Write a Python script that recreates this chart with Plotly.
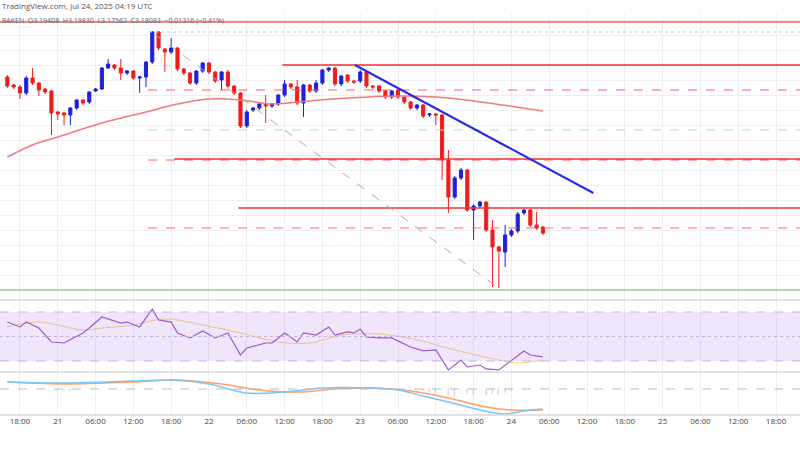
import plotly.graph_objects as go
import pandas as pd

# hourly candles Jul 20 16:00 -> Jul 24 05:00
times = pd.date_range("2025-07-20 16:00", periods=86, freq="h")
opens = [3.486,3.470,3.466,3.454,3.484,3.474,3.462,3.458,3.416,3.414,3.410,3.424,3.440,3.436,3.458,3.462,3.504,3.510,3.504,3.494,
         3.498,3.484,3.486,3.516,3.576,3.542,3.536,3.544,3.502,3.494,3.474,3.498,3.514,3.496,3.480,3.496,3.468,3.454,3.388,3.420,
         3.424,3.432,3.428,3.432,3.450,3.472,3.466,3.434,3.470,3.458,3.474,3.500,3.504,3.472,3.490,3.478,3.478,3.496,3.468,3.468,
         3.458,3.446,3.460,3.446,3.436,3.424,3.430,3.410,3.412,3.410,3.320,3.246,3.284,3.300,3.220,3.228,3.236,3.180,3.146,3.136,
         3.170,3.178,3.214,3.220,3.190,3.186]
highs = [3.490,3.472,3.470,3.488,3.504,3.476,3.464,3.460,3.418,3.416,3.426,3.442,3.442,3.458,3.464,3.506,3.522,3.512,3.522,3.500,
         3.500,3.488,3.518,3.578,3.578,3.544,3.564,3.546,3.504,3.496,3.500,3.516,3.516,3.498,3.498,3.500,3.470,3.456,3.420,3.426,
         3.434,3.450,3.434,3.452,3.480,3.474,3.480,3.472,3.472,3.480,3.502,3.506,3.506,3.490,3.492,3.480,3.500,3.498,3.470,3.470,
         3.460,3.460,3.462,3.448,3.438,3.432,3.432,3.414,3.414,3.412,3.340,3.288,3.304,3.302,3.232,3.238,3.238,3.200,3.148,3.190,
         3.182,3.216,3.222,3.222,3.216,3.188]
lows = [3.464,3.462,3.442,3.450,3.470,3.448,3.452,3.370,3.400,3.390,3.390,3.420,3.430,3.432,3.456,3.460,3.502,3.500,3.480,3.490,
        3.480,3.454,3.466,3.512,3.540,3.496,3.532,3.498,3.490,3.470,3.470,3.494,3.492,3.474,3.460,3.464,3.450,3.384,3.384,3.416,
        3.420,3.394,3.424,3.428,3.446,3.462,3.430,3.406,3.454,3.454,3.470,3.496,3.468,3.468,3.474,3.472,3.474,3.464,3.462,3.454,
        3.442,3.442,3.442,3.432,3.420,3.420,3.404,3.406,3.390,3.280,3.214,3.242,3.280,3.216,3.160,3.224,3.176,3.066,3.064,3.106,
        3.166,3.174,3.210,3.186,3.180,3.170]
closes = [3.468,3.466,3.454,3.484,3.474,3.460,3.456,3.414,3.412,3.410,3.424,3.440,3.434,3.456,3.462,3.504,3.512,3.504,3.494,3.498,
          3.484,3.486,3.516,3.576,3.544,3.536,3.544,3.502,3.494,3.474,3.498,3.514,3.496,3.478,3.496,3.468,3.454,3.388,3.416,3.424,
          3.432,3.428,3.432,3.450,3.472,3.466,3.434,3.470,3.458,3.474,3.500,3.504,3.472,3.488,3.478,3.476,3.496,3.468,3.466,3.458,
          3.446,3.458,3.446,3.436,3.424,3.430,3.408,3.412,3.410,3.320,3.246,3.284,3.300,3.220,3.228,3.236,3.180,3.146,3.138,3.170,
          3.178,3.212,3.220,3.190,3.184,3.174]

ma_idx = [0,4,8,15,22,27,32,37,42,46,54,62,68,74,85]
ma_val = [3.326,3.350,3.366,3.394,3.416,3.432,3.442,3.440,3.432,3.436,3.444,3.448,3.446,3.438,3.418]

rsi_idx = [0,2,3,5,7,9,12,13,15,18,19,21,23,24,26,27,29,31,33,35,37,38,41,42,44,46,47,49,51,52,54,55,56,57,59,61,64,66,68,70,72,73,75,76,78,80,82,83,85]
rsi_val = [61.8,57.8,61.8,56.9,45.5,44.7,52.9,56.9,65.9,61,61.8,57.8,72.4,63.5,61.8,52.9,48.8,54.5,48.8,52.9,34.9,40.6,44.7,44.7,52.9,45.5,52.9,51.2,57.8,51.2,53.7,52.9,56.1,49.6,48.8,48.8,41.4,38.2,39,22.7,30.8,25.1,26.7,23.5,22.7,30.8,38.2,34.9,33.3]
rsima_idx = [0,5,12,15,20,25,31,37,43,48,53,59,65,71,78,81,85]
rsima_val = [57.8,61.8,55.3,56.9,59.4,64.3,59.4,52.9,45.5,44.7,51.2,52,47.3,39,30.8,28.4,30.8]

macd_idx = [0,10,20,26,32,38,44,50,57,62,66,70,75,79,82,85]
macd_val = [0.014,0.012,0.016,0.018,0.010,-0.008,-0.006,0.002,0.002,-0.002,-0.014,-0.026,-0.042,-0.050,-0.044,-0.040]
sig_idx = [0,10,20,27,34,40,46,52,58,64,70,76,80,85]
sig_val = [0.014,0.010,0.014,0.018,0.010,-0.002,-0.006,0.0,0.002,-0.004,-0.018,-0.036,-0.042,-0.042]
hist_idx = [8,9,10,36,37,38,39,40,62,64,66,67,68,69,70,71,72,73,74,75,76,77,78,79,80,84,85]
hist_val = [-0.004,-0.005,-0.003,-0.003,-0.005,-0.007,-0.004,-0.003,0.002,-0.002,-0.004,-0.006,-0.008,-0.010,-0.012,-0.014,-0.012,-0.010,-0.012,-0.014,-0.012,-0.010,-0.012,-0.008,-0.004,0.001,0.002]

tick_vals = pd.date_range("2025-07-20 18:00", "2025-07-25 18:00", freq="6h")
tick_text = ["18:00","21","06:00","12:00","18:00","22","06:00","12:00","18:00","23","06:00","12:00","18:00",
             "24","06:00","12:00","18:00","25","06:00","12:00","18:00"]

def at(ix):
    return [times[i] for i in ix]

fig = go.Figure()
fig.add_trace(go.Candlestick(x=times, open=opens, high=highs, low=lows, close=closes,
    increasing=dict(line=dict(color="#1f1fe0", width=1), fillcolor="#1f1fe0"),
    decreasing=dict(line=dict(color="#f01c1c", width=1), fillcolor="#f01c1c"),
    whiskerwidth=0, xaxis="x", yaxis="y", showlegend=False))
fig.add_trace(go.Scatter(x=at(ma_idx), y=ma_val, mode="lines", line=dict(color="#f27a7a", width=1.5, shape="spline"),
                         xaxis="x", yaxis="y", showlegend=False))
fig.add_trace(go.Scatter(x=at(rsima_idx), y=rsima_val, mode="lines", line=dict(color="#f5d77a", width=1, shape="spline"),
                         xaxis="x", yaxis="y2", showlegend=False))
fig.add_trace(go.Scatter(x=at(rsi_idx), y=rsi_val, mode="lines", line=dict(color="#a05cc8", width=1.2),
                         xaxis="x", yaxis="y2", showlegend=False))
fig.add_trace(go.Bar(x=at(hist_idx), y=hist_val, marker_color=["#f5a0a0" if v < 0 else "#80cbc4" for v in hist_val],
                     width=1000*3600*0.12, xaxis="x", yaxis="y3", showlegend=False))
fig.add_trace(go.Scatter(x=at(sig_idx), y=sig_val, mode="lines", line=dict(color="#ff9e6b", width=1.5, shape="spline"),
                         xaxis="x", yaxis="y3", showlegend=False))
fig.add_trace(go.Scatter(x=at(macd_idx), y=macd_val, mode="lines", line=dict(color="#7cc4f5", width=1.5, shape="spline"),
                         xaxis="x", yaxis="y3", showlegend=False))

xend = "2025-07-26 00:00"
def hline(x0, y, color, dash="solid", width=1.5):
    fig.add_shape(type="line", xref="x", yref="y", x0=x0, x1=xend, y0=y, y1=y,
                  line=dict(color=color, dash=dash, width=width))

hline("2025-07-20 00:00", 3.596, "#f26060", width=1.5)
hline("2025-07-21 14:30", 3.576, "#a8d0f0", "dot", 1)
hline("2025-07-22 11:40", 3.510, "#f03030", width=1.5)
hline("2025-07-21 14:20", 3.460, "#f06060", "dash", 1)
hline("2025-07-21 14:20", 3.380, "#9fe0c8", "dash", 1)
hline("2025-07-21 14:20", 3.320, "#f06060", "dash", 1)
hline("2025-07-21 18:30", 3.322, "#f03030", width=1.5)
hline("2025-07-22 04:40", 3.224, "#f03030", width=1.5)
hline("2025-07-21 14:20", 3.184, "#f07070", "dash", 1)
hline("2025-07-20 00:00", 3.060, "#66bb6a", width=1.2)
fig.add_shape(type="line", xref="x", yref="y", x0="2025-07-22 23:10", y0=3.510, x1="2025-07-24 13:00", y1=3.254,
              line=dict(color="#2828e8", width=2))
fig.add_shape(type="line", xref="x", yref="y", x0="2025-07-21 15:20", y0=3.572, x1="2025-07-23 22:10", y1=3.062,
              line=dict(color="#aaaaaa", width=1, dash="dash"))
# RSI band
fig.add_shape(type="rect", xref="paper", yref="y2", x0=0, x1=1, y0=30, y1=70, fillcolor="rgba(155,89,230,0.15)", line_width=0)
for lv in (70, 50, 30):
    fig.add_shape(type="line", xref="paper", yref="y2", x0=0, x1=1, y0=lv, y1=lv,
                  line=dict(color="#c8b0dc", width=1, dash="dash" if lv != 50 else "dot"))
fig.add_shape(type="line", xref="paper", yref="y3", x0=0, x1=1, y0=0, y1=0, line=dict(color="#bbbbbb", width=1, dash="dash"))
# pane separators
for py in (1-300/450, 1-372/450, 1-415/450):
    fig.add_shape(type="line", xref="paper", yref="paper", x0=0, x1=1, y0=py, y1=py, line=dict(color="#d8d8d8", width=1.5))

fig.add_annotation(text="TradingView.com, Jul 24, 2025 04:19 UTC", xref="paper", yref="paper", x=0.0, y=1-6/450,
                   xanchor="left", yanchor="middle", showarrow=False, font=dict(size=8, color="#555"))
fig.add_annotation(text="RAKEN  O3.19408  H3.19830  L3.17562  C3.18083  −0.01316 (−0.41%)", xref="paper", yref="paper",
                   x=0.0, y=1-21/450, xanchor="left", yanchor="middle", showarrow=False, font=dict(size=7, color="#666"))

grid = "#eeeeee"
fig.update_layout(
    width=800, height=450, margin=dict(l=0, r=0, t=0, b=0),
    paper_bgcolor="white", plot_bgcolor="white",
    xaxis=dict(range=["2025-07-20 14:50", "2025-07-25 21:48"], tickvals=tick_vals, ticktext=tick_text,
               showgrid=True, gridcolor=grid, anchor="y3", rangeslider=dict(visible=False),
               tickfont=dict(size=8, color="#444"), ticks="", showline=False),
    yaxis=dict(domain=[1-300/450, 1-14/450], range=[3.040, 3.612], showgrid=True, gridcolor=grid,
               showticklabels=False, zeroline=False, dtick=0.03),
    yaxis2=dict(domain=[1-372/450, 1-300/450], range=[21.0, 79.8], showgrid=False, showticklabels=False, zeroline=False),
    yaxis3=dict(domain=[1-415/450, 1-372/450], range=[-0.052, 0.034], showgrid=False, showticklabels=False, zeroline=False),
    bargap=0,
)
fig.write_html("out.html", post_script="document.body.style.margin='0';", config={"displayModeBar": False})
